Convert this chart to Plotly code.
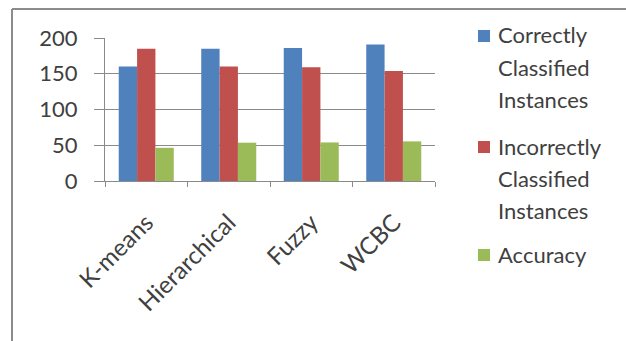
import plotly.graph_objects as go

categories = ["K-means", "Hierarchical", "Fuzzy", "WCBC"]
correct = [160, 185, 186, 191]
incorrect = [185, 160, 159, 154]
accuracy = [46.4, 53.6, 53.9, 55.4]
series_names = ["Correctly Classified Instances", "Incorrectly Classified Instances", "Accuracy"]
legend_lines = [["Correctly", "Classified", "Instances"],
                ["Incorrectly", "Classified", "Instances"],
                ["Accuracy"]]
colors = ["#4F81BD", "#C0504D", "#9BBB59"]
y_ticks = [0, 50, 100, 150, 200]

W, H = 626, 341
PL, PR, PT, PB = 105, 435, 38, 181
FONT = "Lato"
TXT = "#404040"
GRID = "#8a8a8a"


def px(x):
    return (x - PL) / (PR - PL)


def py(y):
    return (PB - y) / (PB - PT)


fig = go.Figure()
for name, vals, col in zip(series_names, [correct, incorrect, accuracy], colors):
    fig.add_trace(go.Bar(x=categories, y=vals, name=name, marker_color=col,
                         marker_line_width=0, showlegend=False))

shapes = []
annotations = []
# frame
shapes.append(dict(type="line", xref="paper", yref="paper", x0=px(12), x1=px(700),
                   y0=py(9), y1=py(9), line=dict(color="#8c8c8c", width=2)))
shapes.append(dict(type="line", xref="paper", yref="paper", x0=px(12), x1=px(12),
                   y0=py(9), y1=py(400), line=dict(color="#8c8c8c", width=2)))

# custom legend
item_top = [35, 146, 254]
line_step = 32
for i, (lines, col) in enumerate(zip(legend_lines, colors)):
    c = item_top[i]
    shapes.append(dict(type="rect", xref="paper", yref="paper",
                       x0=px(478), x1=px(490), y0=py(c + 7), y1=py(c - 5),
                       fillcolor=col, line_width=0))
    for j, t in enumerate(lines):
        annotations.append(dict(text=t, xref="paper", yref="paper", x=px(496),
                                y=py(c + j * line_step), xanchor="left", yanchor="middle",
                                showarrow=False, font=dict(family=FONT, size=22, color=TXT)))

fig.update_layout(
    width=W, height=H,
    margin=dict(l=PL, r=W - PR, t=PT, b=H - PB, pad=0),
    paper_bgcolor="white", plot_bgcolor="white",
    barmode="group", bargap=0.333, bargroupgap=0,
    shapes=shapes, annotations=annotations,
    font=dict(family=FONT, size=22, color=TXT),
)
fig.update_yaxes(range=[0, 200], tickvals=y_ticks, showgrid=True, gridcolor=GRID, gridwidth=1,
                 showline=True, linecolor=GRID, linewidth=1, ticks="outside", ticklen=10,
                 tickcolor=GRID, ticklabelstandoff=12, zeroline=False,
                 tickfont=dict(family=FONT, size=22, color=TXT))
fig.update_xaxes(type="category", tickson="boundaries", ticks="outside", ticklen=5,
                 tickcolor=GRID, showline=True, linecolor=GRID, linewidth=1, showgrid=False,
                 tickangle=-45, ticklabelstandoff=17,
                 tickfont=dict(family=FONT, size=24, color=TXT))

fig.write_html("out.html")
